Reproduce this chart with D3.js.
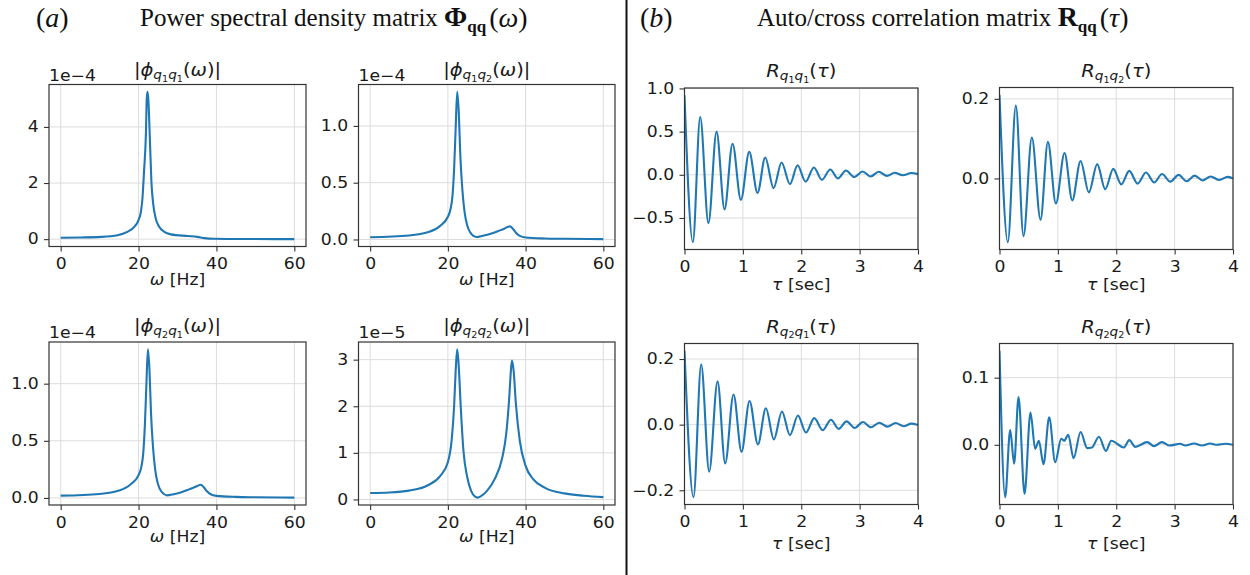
<!DOCTYPE html>
<html>
<head>
<meta charset="utf-8">
<script src="https://cdn.jsdelivr.net/npm/d3@7"></script>
<style>
  body { margin: 0; background: #fff; }
  svg { display: block; }
</style>
</head>
<body>
<svg id="fig" width="1250" height="575"></svg>
<script>
// ---------------- data ----------------
// Power spectral densities (values in units of the offset shown above each axis)
const phiQ1Q1Freq = [0, 5, 10.3, 14.6, 17.1, 18.9, 20, 20.6, 21, 21.4, 21.9, 22.1, 22.3, 22.5, 22.9, 23.3, 23.8, 24.4, 25.3, 26.6, 28.3, 32.6, 35.1, 36.9, 39.4, 45, 50, 60];
const phiQ1Q1     = [0.05, 0.06, 0.08, 0.14, 0.26, 0.44, 0.68, 0.97, 1.45, 2.4, 3.8, 5.0, 5.25, 5.0, 3.6, 2.04, 1.21, 0.74, 0.44, 0.26, 0.17, 0.11, 0.08, 0.036, 0.012, 0.005, 0.003, 0.0];

const phiQ1Q2Freq = [0, 10, 15, 18, 20, 20.7, 21.2, 21.6, 22, 22.4, 22.8, 23.2, 23.7, 24.3, 25, 26, 27.3, 29, 31, 33, 34.5, 35.5, 36, 36.7, 37.5, 38.5, 40, 45, 50, 60];
const phiQ1Q2     = [0.02, 0.035, 0.065, 0.12, 0.2, 0.27, 0.39, 0.62, 0.98, 1.30, 1.12, 0.74, 0.45, 0.24, 0.12, 0.05, 0.022, 0.033, 0.05, 0.075, 0.095, 0.112, 0.115, 0.095, 0.06, 0.032, 0.018, 0.009, 0.006, 0.003];

// the two cross spectra have the same magnitude
const phiQ2Q1Freq = phiQ1Q2Freq;
const phiQ2Q1     = phiQ1Q2;

const phiQ2Q2Freq = [0, 5, 10, 15, 18, 20, 21, 21.6, 22, 22.4, 22.8, 23.3, 24, 25, 26, 27, 27.6, 28.5, 30, 32, 34, 35, 35.8, 36.2, 36.5, 36.9, 37.5, 38.5, 40, 42, 45, 50, 55, 60];
const phiQ2Q2     = [0.14, 0.15, 0.19, 0.31, 0.5, 0.8, 1.3, 2.0, 2.75, 3.22, 2.85, 2.0, 1.05, 0.47, 0.18, 0.06, 0.04, 0.07, 0.18, 0.43, 0.9, 1.4, 2.2, 2.75, 2.98, 2.78, 2.05, 1.26, 0.72, 0.43, 0.25, 0.13, 0.08, 0.05];

// Auto / cross correlations: turning points of the decaying oscillations
const rQ1Q1Tau = [0, 0.143, 0.269, 0.41, 0.549, 0.686, 0.823, 0.966, 1.109, 1.251, 1.383, 1.526, 1.663, 1.806, 1.937, 2.074, 2.217, 2.354, 2.497, 2.629, 2.766, 2.909, 3.051, 3.189, 3.326, 3.469, 3.6, 3.737, 3.886, 4.0];
const rQ1Q1    = [0.92, -0.78, 0.67, -0.56, 0.5, -0.40, 0.36, -0.29, 0.265, -0.21, 0.2, -0.154, 0.142, -0.108, 0.11, -0.08, 0.085, -0.058, 0.062, -0.042, 0.05, -0.027, 0.038, -0.02, 0.035, -0.012, 0.023, -0.005, 0.02, 0.008];

const rQ1Q2Tau = [0, 0.143, 0.28, 0.411, 0.554, 0.703, 0.829, 0.966, 1.114, 1.246, 1.389, 1.531, 1.674, 1.811, 1.949, 2.086, 2.223, 2.366, 2.509, 2.651, 2.783, 2.926, 3.069, 3.206, 3.343, 3.48, 3.617, 3.766, 3.909, 4.0];
const rQ1Q2    = [0.21, -0.16, 0.183, -0.145, 0.103, -0.104, 0.092, -0.063, 0.064, -0.055, 0.044, -0.035, 0.036, -0.027, 0.024, -0.015, 0.019, -0.013, 0.015, -0.01, 0.011, -0.008, 0.009, -0.007, 0.007, -0.005, 0.005, -0.004, 0.004, 0.0];

const rQ2Q1Tau = [0, 0.154, 0.286, 0.423, 0.566, 0.697, 0.84, 0.977, 1.114, 1.257, 1.394, 1.531, 1.669, 1.806, 1.943, 2.08, 2.223, 2.366, 2.509, 2.64, 2.777, 2.914, 3.057, 3.194, 3.337, 3.474, 3.617, 3.754, 3.886, 4.0];
const rQ2Q1    = [0.225, -0.221, 0.183, -0.143, 0.132, -0.118, 0.092, -0.083, 0.072, -0.06, 0.05, -0.045, 0.04, -0.032, 0.028, -0.024, 0.02, -0.017, 0.015, -0.013, 0.01, -0.01, 0.008, -0.008, 0.006, -0.006, 0.005, -0.005, 0.003, -0.001];

const rQ2Q2Tau = [0, 0.097, 0.183, 0.251, 0.326, 0.429, 0.531, 0.611, 0.674, 0.754, 0.851, 0.954, 1.057, 1.109, 1.177, 1.269, 1.389, 1.503, 1.583, 1.703, 1.823, 1.914, 2.131, 2.223, 2.326, 2.531, 2.646, 2.783, 2.914, 3.097, 3.183, 3.331, 3.469, 3.611, 3.726, 3.869, 4.0];
const rQ2Q2    = [0.14, -0.078, 0.022, -0.028, 0.071, -0.073, 0.048, -0.006, 0.006, -0.029, 0.041, -0.026, 0.009, 0.006, 0.015, -0.02, 0.019, -0.005, -0.004, 0.012, -0.009, 0.006, -0.004, 0.007, -0.003, 0.004, -0.002, 0.004, -0.001, 0.0015, -0.001, 0.002, -0.001, 0.002, 0.0, 0.0015, 0.0];

// ticks
const freqTicks = [0, 20, 40, 60];
const freqTickLabels = ["0", "20", "40", "60"];
const tauTicks = [0, 1, 2, 3, 4];
const tauTickLabels = ["0", "1", "2", "3", "4"];
const yTicksQ1Q1 = [0, 2, 4];            const yLabelsQ1Q1 = ["0", "2", "4"];
const yTicksQ1Q2 = [0, 0.5, 1.0];        const yLabelsQ1Q2 = ["0.0", "0.5", "1.0"];
const yTicksQ2Q2 = [0, 1, 2, 3];         const yLabelsQ2Q2 = ["0", "1", "2", "3"];
const yTicksRQ1Q1 = [-0.5, 0, 0.5, 1.0]; const yLabelsRQ1Q1 = ["\u22120.5", "0.0", "0.5", "1.0"];
const yTicksRQ1Q2 = [0, 0.2];            const yLabelsRQ1Q2 = ["0.0", "0.2"];
const yTicksRQ2Q1 = [-0.2, 0, 0.2];      const yLabelsRQ2Q1 = ["\u22120.2", "0.0", "0.2"];
const yTicksRQ2Q2 = [0, 0.1];            const yLabelsRQ2Q2 = ["0.0", "0.1"];

// ---------------- drawing ----------------
const SANS = "'DejaVu Sans', sans-serif";
const SERIF = "'Liberation Serif', 'Times New Roman', serif";
const SX = 1.15;           // horizontal stretch of the plot lettering
const TXT = "#1a1a1a";
const BLUE = "#1f77b4";

const svg = d3.select("#fig");

function stretchedText(parent, x, y, anchor, size) {
  const g = parent.append("g").attr("transform", `translate(${x},${y}) scale(${SX},1)`);
  return g.append("text")
    .attr("text-anchor", anchor)
    .attr("font-family", SANS)
    .attr("font-size", size)
    .attr("fill", TXT);
}

// pieces: [text, relative size, italic, baseline drop in em of base size]
function mathRun(textSel, pieces, base) {
  let cur = 0;
  pieces.forEach(([t, s, it, sh]) => {
    textSel.append("tspan")
      .attr("font-size", base * s)
      .attr("font-style", it ? "italic" : "normal")
      .attr("dy", (sh - cur) * base)
      .text(t);
    cur = sh;
  });
}

function subPair(a, b) {
  return [["q", 0.7, 1, 0.2], [a, 0.49, 0, 0.34], ["q", 0.7, 1, 0.2], [b, 0.49, 0, 0.34]];
}
function phiTitle(a, b) {
  return [["|", 1, 0, 0], ["\u03d5", 1, 1, 0], ...subPair(a, b), ["(", 1, 0, 0], ["\u03c9", 1, 1, 0], [")", 1, 0, 0], ["|", 1, 0, 0]];
}
function rTitle(a, b) {
  return [["R", 1, 1, 0], ...subPair(a, b), ["(", 1, 0, 0], ["\u03c4", 1, 1, 0], [")", 1, 0, 0]];
}
const omegaLabel = [["\u03c9", 1, 1, 0], [" [Hz]", 1, 0, 0]];
const tauLabel = [["\u03c4", 1, 1, 0], [" [sec]", 1, 0, 0]];

function padded(ext) {
  const r = ext[1] - ext[0];
  return [ext[0] - 0.05 * r, ext[1] + 0.05 * r];
}

const panels = [
  { box: [49, 84.5, 306, 246.5], xs: phiQ1Q1Freq, ys: phiQ1Q1, kind: "psd", title: phiTitle("1", "1"), offset: "1e\u22124",
    yt: yTicksQ1Q1, yl: yLabelsQ1Q1, titleY: 76, xlabY: 285 },
  { box: [358.5, 84.5, 615, 246.5], xs: phiQ1Q2Freq, ys: phiQ1Q2, kind: "psd", title: phiTitle("1", "2"), offset: "1e\u22124",
    yt: yTicksQ1Q2, yl: yLabelsQ1Q2, titleY: 76, xlabY: 285 },
  { box: [49, 342, 306, 505], xs: phiQ2Q1Freq, ys: phiQ2Q1, kind: "psd", title: phiTitle("2", "1"), offset: "1e\u22124",
    yt: yTicksQ1Q2, yl: yLabelsQ1Q2, titleY: 332, xlabY: 541.5 },
  { box: [358.5, 342, 615, 505], xs: phiQ2Q2Freq, ys: phiQ2Q2, kind: "psd", title: phiTitle("2", "2"), offset: "1e\u22125",
    yt: yTicksQ2Q2, yl: yLabelsQ2Q2, titleY: 332, xlabY: 541.5 },
  { box: [684.5, 88, 918, 249.5], xs: rQ1Q1Tau, ys: rQ1Q1, kind: "r", title: rTitle("1", "1"),
    yt: yTicksRQ1Q1, yl: yLabelsRQ1Q1, titleY: 77, xlabY: 290 },
  { box: [999.5, 87.5, 1233, 249.5], xs: rQ1Q2Tau, ys: rQ1Q2, kind: "r", title: rTitle("1", "2"),
    yt: yTicksRQ1Q2, yl: yLabelsRQ1Q2, titleY: 77, xlabY: 290 },
  { box: [684.5, 343.5, 918, 504.5], xs: rQ2Q1Tau, ys: rQ2Q1, kind: "r", title: rTitle("2", "1"),
    yt: yTicksRQ2Q1, yl: yLabelsRQ2Q1, titleY: 332.5, xlabY: 549 },
  { box: [999.5, 343.5, 1233, 504.5], xs: rQ2Q2Tau, ys: rQ2Q2, kind: "r", title: rTitle("2", "2"),
    yt: yTicksRQ2Q2, yl: yLabelsRQ2Q2, titleY: 332.5, xlabY: 549 }
];

panels.forEach((p, idx) => {
  const [x0, y0, x1, y1] = p.box;
  const isPsd = p.kind === "psd";
  const xDomain = isPsd ? padded(d3.extent(p.xs)) : d3.extent(tauTicks);
  const x = d3.scaleLinear().domain(xDomain).range([x0, x1]);
  const y = d3.scaleLinear().domain(padded(d3.extent(p.ys))).range([y1, y0]);
  const xt = isPsd ? freqTicks : tauTicks;
  const xl = isPsd ? freqTickLabels : tauTickLabels;

  const g = svg.append("g");
  const clipId = "clip" + idx;
  g.append("clipPath").attr("id", clipId)
    .append("rect").attr("x", x0).attr("y", y0).attr("width", x1 - x0).attr("height", y1 - y0);

  // grid
  g.append("g").selectAll("line.vx").data(xt).join("line")
    .attr("x1", d => x(d)).attr("x2", d => x(d)).attr("y1", y0).attr("y2", y1)
    .attr("stroke", "#dcdcdc").attr("stroke-width", 1);
  g.append("g").selectAll("line.hy").data(p.yt).join("line")
    .attr("x1", x0).attr("x2", x1).attr("y1", d => y(d)).attr("y2", d => y(d))
    .attr("stroke", "#dcdcdc").attr("stroke-width", 1);

  // series
  const pts = p.xs.map((v, i) => [v, p.ys[i]]);
  g.append("path").datum(pts)
    .attr("clip-path", `url(#${clipId})`)
    .attr("fill", "none").attr("stroke", BLUE).attr("stroke-width", 2.1)
    .attr("stroke-linejoin", "round")
    .attr("d", d3.line().x(d => x(d[0])).y(d => y(d[1])).curve(d3.curveMonotoneX));

  // axes
  const ax = g.append("g").attr("transform", `translate(0,${y1})`)
    .call(d3.axisBottom(x).tickValues(xt).tickFormat((d, i) => xl[i]).tickSizeInner(5).tickSizeOuter(0).tickPadding(7));
  const ay = g.append("g").attr("transform", `translate(${x0},0)`)
    .call(d3.axisLeft(y).tickValues(p.yt).tickFormat((d, i) => p.yl[i]).tickSizeInner(5).tickSizeOuter(0).tickPadding(4));
  [ax, ay].forEach(a => {
    a.select(".domain").remove();
    a.selectAll(".tick line").attr("stroke", "#333").attr("stroke-width", 1.1);
    a.selectAll(".tick text").attr("font-family", SANS).attr("font-size", 15).attr("fill", TXT)
      .attr("transform", `scale(${SX},1)`);
  });

  // frame
  g.append("rect").attr("x", x0).attr("y", y0).attr("width", x1 - x0).attr("height", y1 - y0)
    .attr("fill", "none").attr("stroke", "#333").attr("stroke-width", 1.2);

  // title, offset and axis label
  mathRun(stretchedText(g, (x0 + x1) / 2, p.titleY, "middle", 17), p.title, 17);
  if (p.offset) stretchedText(g, x0, y0 - 4, "start", 15).text(p.offset);
  mathRun(stretchedText(g, (x0 + x1) / 2, p.xlabY, "middle", 15), isPsd ? omegaLabel : tauLabel, 15);
});

// ---------------- headings and divider ----------------
const head = svg.append("g").attr("font-family", SERIF).attr("fill", "#111");

function heading(xTag, tag, xText, words, sym, symArg) {
  const t1 = head.append("text").attr("x", xTag).attr("y", 27).attr("font-size", 28);
  t1.append("tspan").text("(");
  t1.append("tspan").attr("font-style", "italic").text(tag);
  t1.append("tspan").text(")");

  const t2 = head.append("text").attr("x", xText).attr("y", 26).attr("font-size", 25);
  t2.append("tspan").text(words + " ");
  t2.append("tspan").attr("font-weight", "bold").attr("font-size", 28).text(sym);
  t2.append("tspan").attr("font-weight", "bold").attr("font-size", 17).attr("dy", 6).text("qq");
  t2.append("tspan").attr("font-size", 28).attr("dy", -5).attr("dx", 3).text("(");
  t2.append("tspan").attr("font-size", 28).attr("font-style", "italic").text(symArg);
  t2.append("tspan").attr("font-size", 28).text(")");
}
heading(36, "a", 140, "Power spectral density matrix", "\u03a6", "\u03c9");
heading(640, "b", 757, "Auto/cross correlation matrix", "R", "\u03c4");

svg.append("line").attr("x1", 626.5).attr("x2", 626.5).attr("y1", 0).attr("y2", 575)
  .attr("stroke", "#111").attr("stroke-width", 2);
</script>
</body>
</html>
